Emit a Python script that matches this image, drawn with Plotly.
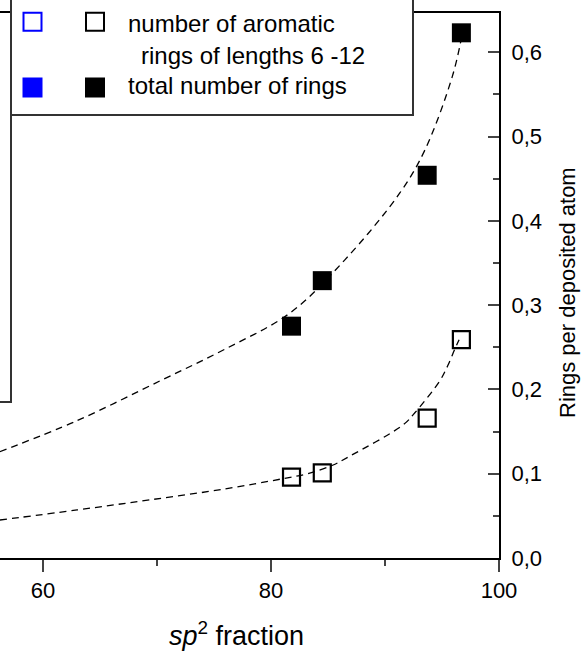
import plotly.graph_objects as go

# ---- data ----
sp2_points = [81.8, 84.5, 93.7, 96.7]
aromatic_rings = [0.096, 0.101, 0.166, 0.259]
total_rings = [0.275, 0.329, 0.454, 0.623]

# dashed guide curves
fit_total_x = [56.2, 63.0, 70.4, 76.0, 81.7, 86.5, 91.3, 93.5, 95.9, 96.75]
fit_total_y = [0.126, 0.163, 0.211, 0.248, 0.291, 0.354, 0.433, 0.484, 0.571, 0.620]
fit_arom_x = [56.2, 63.0, 69.4, 76.0, 81.0, 83.2, 85.4, 86.8, 91.6, 92.6, 94.8, 95.5, 96.1, 96.5]
fit_arom_y = [0.045, 0.057, 0.069, 0.082, 0.094, 0.100, 0.110, 0.120, 0.158, 0.172, 0.210, 0.228, 0.247, 0.259]

x_ticks = [60, 80, 100]
y_ticks = [0.0, 0.1, 0.2, 0.3, 0.4, 0.5, 0.6]

legend_lines = ["number of aromatic", "rings of lengths 6 -12", "total number of rings"]
x_title = "<i>sp</i><sup>2</sup> fraction"
y_title = "Rings per deposited atom"

W, H = 581, 654
L, R, T, B = 0, 82, 13, 96
PW, PH = W - L - R, H - T - B
FONT = "Liberation Sans, Arial, sans-serif"


def px(x):
    return (x - L) / PW


def py(y):
    return (H - B - y) / PH


fig = go.Figure()
fig.add_trace(go.Scatter(x=fit_total_x, y=fit_total_y, mode="lines",
                         line=dict(color="black", width=1.3, dash="7px,5px", shape="spline"),
                         showlegend=False, hoverinfo="skip"))
fig.add_trace(go.Scatter(x=fit_arom_x, y=fit_arom_y, mode="lines",
                         line=dict(color="black", width=1.3, dash="7px,5px", shape="spline"),
                         showlegend=False, hoverinfo="skip"))
fig.add_trace(go.Scatter(x=sp2_points, y=aromatic_rings, mode="markers",
                         marker=dict(symbol="square-open", size=17, color="black",
                                     line=dict(width=2.2, color="black")),
                         showlegend=False))
fig.add_trace(go.Scatter(x=sp2_points, y=total_rings, mode="markers",
                         marker=dict(symbol="square", size=19, color="black",
                                     line=dict(width=0)),
                         showlegend=False))

shapes = []
# legend box
shapes.append(dict(type="rect", xref="paper", yref="paper",
                   x0=px(11), x1=px(413), y0=py(115), y1=py(-5),
                   line=dict(color="#333333", width=2), fillcolor="white", layer="above"))
# right edge of neighbouring panel
shapes.append(dict(type="path", xref="paper", yref="paper",
                   path=f"M {px(11)},{py(115)} L {px(11)},{py(402)} L {px(-5)},{py(402)}",
                   line=dict(color="#333333", width=2), layer="above"))


def sq(cx, cy, color, filled):
    s = 9
    return dict(type="rect", xref="paper", yref="paper",
                x0=px(cx - s), x1=px(cx + s), y0=py(cy + s), y1=py(cy - s),
                line=dict(color=color, width=2),
                fillcolor=color if filled else "white", layer="above")


shapes += [sq(32.5, 21.7, "#0000ff", False), sq(95, 21.7, "black", False),
           sq(32.5, 87.5, "#0000ff", True), sq(95, 87.5, "black", True)]

LF = dict(size=24, family=FONT, color="black")
annotations = [
    dict(text=legend_lines[0], x=px(126), y=py(23), xref="paper", yref="paper",
         xanchor="left", yanchor="middle", showarrow=False, font=LF),
    dict(text=legend_lines[1], x=px(139), y=py(56), xref="paper", yref="paper",
         xanchor="left", yanchor="middle", showarrow=False, font=LF),
    dict(text=legend_lines[2], x=px(126), y=py(86), xref="paper", yref="paper",
         xanchor="left", yanchor="middle", showarrow=False, font=LF),
    dict(text=x_title, x=px(236), y=py(634), xref="paper", yref="paper",
         xanchor="center", yanchor="middle", showarrow=False, font=dict(size=27, family=FONT, color="black")),
    dict(text=y_title, x=px(567), y=py(293), xref="paper", yref="paper",
         xanchor="center", yanchor="middle", textangle=-90, showarrow=False,
         font=dict(size=22, family=FONT, color="black")),
]

fig.update_layout(
    width=W, height=H,
    margin=dict(l=L, r=R, t=T, b=B, pad=0),
    paper_bgcolor="white", plot_bgcolor="white",
    separators=",.",
    font=dict(family=FONT, color="black", size=22),
    shapes=shapes, annotations=annotations,
    xaxis=dict(range=[56.23, 100], tickvals=x_ticks, ticks="outside", ticklen=12, tickwidth=2,
               showline=True, linewidth=2, linecolor="black", mirror=True,
               showgrid=False, zeroline=False, tickfont=dict(size=22),
               minor=dict(dtick=10, ticks="outside", ticklen=6, tickwidth=2, showgrid=False)),
    yaxis=dict(range=[0, 0.6465], side="right", tickvals=y_ticks, tickformat=".1f",
               ticks="inside", ticklen=11, tickwidth=2, ticklabelstandoff=6,
               showline=True, linewidth=2, linecolor="black",
               showgrid=False, zeroline=False, tickfont=dict(size=22),
               minor=dict(dtick=0.05, ticks="inside", ticklen=6, tickwidth=2, showgrid=False)),
)

fig.write_html("out.html")
